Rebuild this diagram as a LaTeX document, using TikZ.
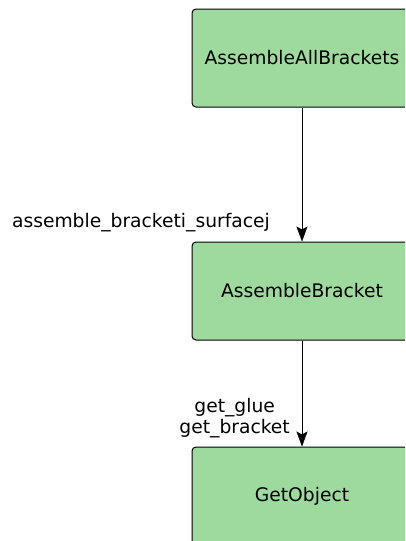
\documentclass[tikz,border=0pt]{standalone}
\usepackage{fontspec}
\setmainfont{DejaVu Sans}
\usetikzlibrary{arrows.meta,positioning}
\definecolor{boxgreen}{RGB}{158,218,158}

\begin{document}
\begin{tikzpicture}[>={Stealth[length=15pt,width=11pt,inset=3pt]},x=1pt,y=1pt,
    font=\fontsize{18.7pt}{21.5pt}\selectfont,
    block/.style={draw=black,fill=boxgreen,rounded corners=4pt,line width=1pt,
      minimum width=220pt,minimum height=98pt,inner sep=0pt},
    lbl/.style={anchor=east,inner sep=0pt}]
    \useasboundingbox (0,0) rectangle (405,-541);
    \clip (0,0) rectangle (405,-541);
    \node[block] (1) at (302,-58) {AssembleAllBrackets};
    \node[block] (2) [below=134pt of 1] {AssembleBracket};
    \node[block] (3) [below=106pt of 2] {GetObject};

    \path[->] (1) edge node[lbl,pos=0.86,xshift=-32pt] {assemble\_bracketi\_surfacej} (2);
    \path[->] (2) edge node[lbl,pos=0.73,xshift=-12pt,align=center] {get\_glue\\get\_bracket} (3);
\end{tikzpicture}
\end{document}
